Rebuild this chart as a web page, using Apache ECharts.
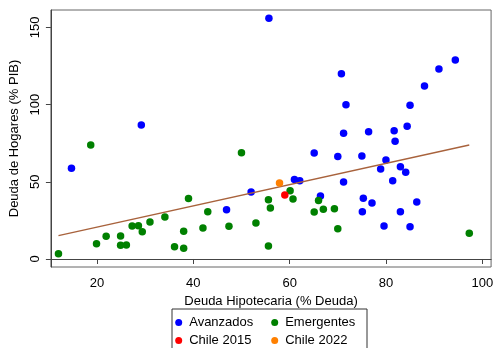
<!DOCTYPE html>
<html>
<head>
<meta charset="utf-8">
<script src="https://cdn.jsdelivr.net/npm/echarts@6/dist/echarts.min.js"></script>
<style>
  html, body { margin: 0; padding: 0; background: #fff; }
  #chart { width: 496px; height: 348px; }
</style>
</head>
<body>
<div id="chart"></div>
<script>
// valores
const avanzadosX = [14.7, 29.2, 46.9, 52.0, 55.7, 61.0, 62.1, 65.1, 66.4, 70.0, 70.75, 71.2, 71.7, 71.2, 75.0, 75.3, 75.1, 76.4, 77.1, 78.9, 79.6, 80.0, 81.4, 81.7, 81.9, 83.0, 83.0, 84.1, 84.4, 85.0, 85.0, 86.4, 88.0, 91.0, 94.4]
const avanzadosY = [58.7, 86.8, 31.9, 43.4, 155.9, 51.4, 50.7, 68.7, 40.8, 66.3, 120.0, 81.4, 99.9, 49.9, 66.7, 39.3, 30.6, 82.4, 36.3, 58.3, 21.4, 64.1, 50.7, 83.1, 76.2, 59.8, 30.6, 56.2, 85.9, 99.5, 20.9, 36.9, 112.0, 123.0, 128.9]
const emergentesX = [12.0, 18.7, 19.9, 21.9, 24.9, 24.9, 26.1, 27.3, 28.6, 29.4, 31.0, 34.1, 36.1, 38.0, 38.0, 39.0, 42.0, 43.0, 47.4, 50.0, 53.0, 55.6, 56.0, 55.6, 60.1, 60.7, 65.1, 66.0, 67.0, 69.3, 70.0, 97.3]
const emergentesY = [3.4, 73.8, 9.9, 14.7, 14.9, 8.9, 9.1, 21.4, 21.6, 17.7, 24.0, 27.2, 8.0, 17.9, 6.9, 39.1, 20.1, 30.6, 21.2, 68.8, 23.3, 38.4, 33.0, 8.4, 44.2, 38.9, 30.4, 37.8, 32.2, 32.6, 19.6, 16.6]
const chile2015 = [59.0, 41.4]
const chile2022 = [57.9, 49.2]
const ajusteX = [12.0, 97.3]
const ajusteY = [15.1, 73.8]
const xTicks = [20, 40, 60, 80, 100]
const yTicks = [0, 50, 100, 150]

const zip = (xs, ys) => xs.map((x, i) => [x, ys[i]])

const chart = echarts.init(document.getElementById("chart"))

const font = "Liberation Sans, Arial, sans-serif"
const legendItem = (name, left, top) => ({
  data: [name],
  left: left,
  top: top,
  icon: "circle",
  itemWidth: 11,
  itemHeight: 7,
  padding: 0,
  textStyle: { fontFamily: font, fontSize: 13, color: "#000", padding: [0, 0, 0, 0] },
})

const option = {
  animation: false,
  grid: {
    left: 45,
    top: 10,
    width: 449,
    height: 257,
    show: true,
    borderColor: "#666",
    borderWidth: 1,
  },
  xAxis: {
    type: "value",
    min: 10.43,
    max: 101.83,
    name: "Deuda Hipotecaria (% Deuda)",
    nameLocation: "middle",
    nameGap: 19,
    nameTextStyle: { fontFamily: font, fontSize: 13, color: "#000" },
    axisLine: { show: true, lineStyle: { color: "#444", width: 1 } },
    axisTick: { show: true, length: 5, customValues: xTicks, lineStyle: { color: "#444" } },
    axisLabel: { customValues: xTicks, margin: 10, fontFamily: font, fontSize: 13, color: "#000" },
    splitLine: { show: false },
  },
  yAxis: {
    type: "value",
    min: -5.18,
    max: 161.2,
    name: "Deuda de Hogares (% PIB)",
    nameLocation: "middle",
    nameGap: 20,
    nameTextStyle: { fontFamily: font, fontSize: 13, color: "#000" },
    axisLine: { show: true, lineStyle: { color: "#444", width: 1 } },
    axisTick: { show: true, length: 5, customValues: yTicks, lineStyle: { color: "#444" } },
    axisLabel: { customValues: yTicks, rotate: 90, margin: 9, fontFamily: font, fontSize: 13, color: "#000" },
    splitLine: { show: false },
  },
  legend: [
    legendItem("Avanzados", 175.2, 316),
    legendItem("Emergentes", 271.2, 316),
    legendItem("Chile 2015", 175.2, 334),
    legendItem("Chile 2022", 271.2, 334),
  ],
  graphic: [
    {
      type: "rect",
      shape: { x: 172, y: 309, width: 195, height: 45 },
      style: { fill: "none", stroke: "#333", lineWidth: 1 },
      silent: true,
    },
  ],
  series: [
    {
      name: "Avanzados",
      type: "scatter",
      symbolSize: 7.5,
      itemStyle: { color: "#0000ff", opacity: 1 },
      data: zip(avanzadosX, avanzadosY),
    },
    {
      name: "Emergentes",
      type: "scatter",
      symbolSize: 7.5,
      itemStyle: { color: "#008000", opacity: 1 },
      data: zip(emergentesX, emergentesY),
    },
    {
      name: "ajuste",
      type: "line",
      showSymbol: false,
      lineStyle: { color: "#a8623c", width: 1.3 },
      data: zip(ajusteX, ajusteY),
      z: 3,
    },
    {
      name: "Chile 2022",
      type: "scatter",
      symbolSize: 7.5,
      itemStyle: { color: "#ff8000", opacity: 1 },
      data: [chile2022],
      z: 4,
    },
    {
      name: "Chile 2015",
      type: "scatter",
      symbolSize: 7.5,
      itemStyle: { color: "#ff0000", opacity: 1 },
      data: [chile2015],
      z: 4,
    },
  ],
}
chart.setOption(option)
</script>
</body>
</html>
